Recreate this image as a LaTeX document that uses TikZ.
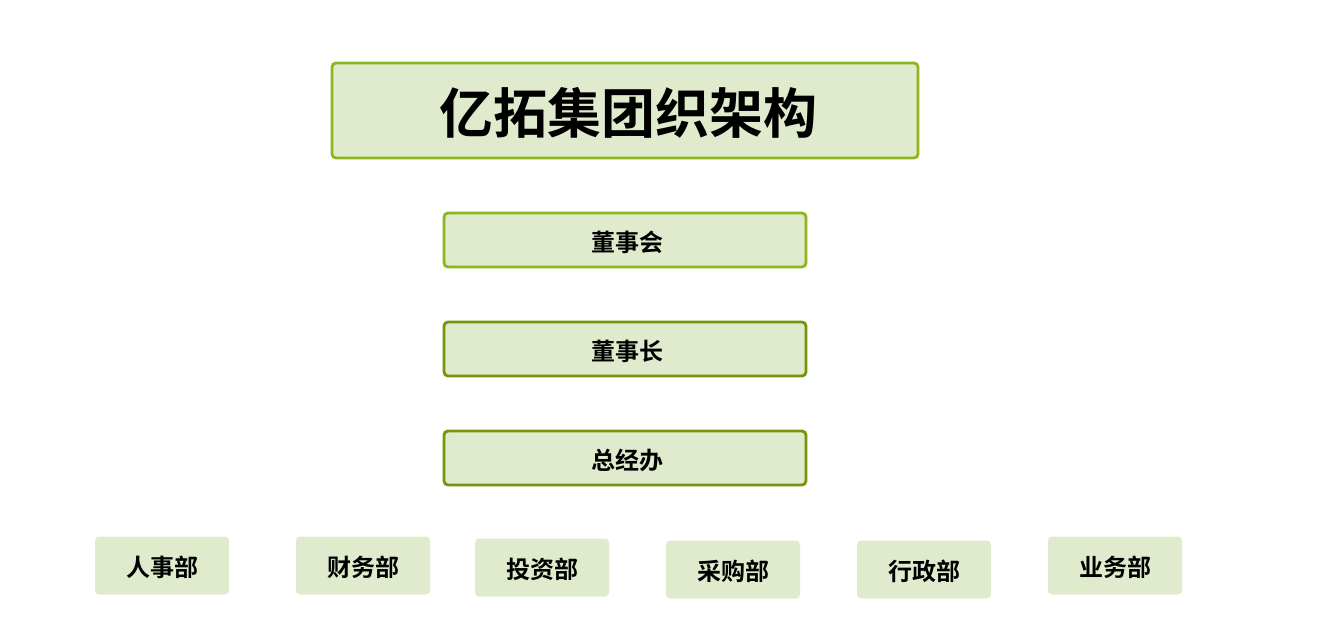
\documentclass[tikz,border=0pt]{standalone}
\usepackage{fontspec}
\newfontfamily\cjk{Noto Sans CJK SC}[BoldFont={Noto Sans CJK SC Bold}]
\definecolor{boxfill}{HTML}{E0EBCD}
\definecolor{lightedge}{HTML}{8DB51C}
\definecolor{darkedge}{HTML}{76930C}
\begin{document}
\begin{tikzpicture}[x=1pt,y=-1pt,
  base/.style={fill=boxfill,rounded corners=4pt,inner sep=0pt},
  label24/.style={inner sep=0pt,font=\cjk\bfseries\fontsize{24}{26}\selectfont,text=black},
  label54/.style={inner sep=0pt,font=\cjk\bfseries\fontsize{54}{58}\selectfont,text=black},
  titlebox/.style={base,draw=lightedge,line width=2.8pt,minimum width=586pt,minimum height=95pt},
  lightbox/.style={base,draw=lightedge,line width=2.8pt,minimum width=362pt,minimum height=54pt},
  darkbox/.style={base,draw=darkedge,line width=2.8pt,minimum width=362pt,minimum height=54pt},
  dept/.style={base,minimum width=134pt,minimum height=58pt}]
\useasboundingbox (0,0) rectangle (1331,629);
\node[titlebox] (title) at (625,110.5) {};
\node[label54] (titletext) at ([shift={(3,2.5)}]title.center) {亿拓集团织架构};
\node[lightbox] (board) at (625,240) {};
\node[label24] (boardtext) at ([shift={(2,2)}]board.center) {董事会};
\node[darkbox] (chair) at (625,349) {};
\node[label24] (chairtext) at ([shift={(2,2)}]chair.center) {董事长};
\node[darkbox] (gm) at (625,458) {};
\node[label24] (gmtext) at ([shift={(2,2)}]gm.center) {总经办};
\node[dept] (hr) at (162,565.5) {};
\node[label24] (hrtext) at ([shift={(0.5,1.5)}]hr.center) {人事部};
\node[dept] (fin) at (363,565.5) {};
\node[label24] (fintext) at ([shift={(0.5,1.5)}]fin.center) {财务部};
\node[dept] (inv) at (542,567.5) {};
\node[label24] (invtext) at ([shift={(0.5,1.5)}]inv.center) {投资部};
\node[dept] (pur) at (733,569.5) {};
\node[label24] (purtext) at ([shift={(0.5,1.5)}]pur.center) {采购部};
\node[dept] (adm) at (924,569.5) {};
\node[label24] (admtext) at ([shift={(0.5,1.5)}]adm.center) {行政部};
\node[dept] (biz) at (1115,565.5) {};
\node[label24] (biztext) at ([shift={(0.5,1.5)}]biz.center) {业务部};
\end{tikzpicture}
\end{document}
